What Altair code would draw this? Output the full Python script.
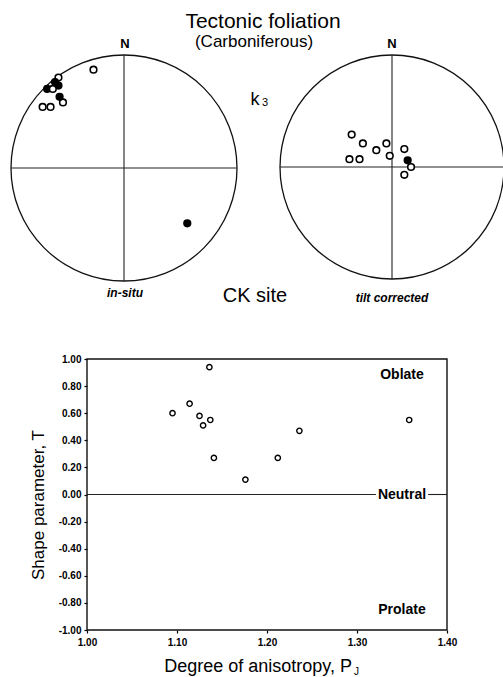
import altair as alt
import pandas as pd

FONT = "Liberation Sans"

# k3 directions, lower-hemisphere equal-area projection (unit net: east, north)
insitu_east = [-0.27, -0.58, -0.72, -0.65, -0.54, -0.61, -0.58, -0.68, -0.57, -0.63, 0.56]
insitu_north = [0.87, 0.80, 0.54, 0.54, 0.58, 0.76, 0.73, 0.70, 0.63, 0.70, -0.49]
insitu_kind = ["open", "open", "open", "open", "open",
               "filled", "filled", "filled", "filled", "open", "filled"]

tilt_east = [-0.36, -0.26, -0.05, 0.11, -0.14, -0.02, -0.38, -0.29, 0.14, 0.17, 0.11]
tilt_north = [0.29, 0.21, 0.21, 0.16, 0.15, 0.10, 0.07, 0.07, 0.06, 0.00, -0.07]
tilt_kind = ["open", "open", "open", "open", "open", "open", "open", "open",
             "filled", "open", "open"]

# AMS shape parameters per specimen
pj = [1.095, 1.114, 1.125, 1.129, 1.136, 1.137, 1.141, 1.176, 1.212, 1.236, 1.358]
t_shape = [0.60, 0.67, 0.58, 0.51, 0.94, 0.55, 0.27, 0.11, 0.27, 0.47, 0.55]

x_ticks = [1.0, 1.1, 1.2, 1.3, 1.4]
y_ticks = [-1.0, -0.8, -0.6, -0.4, -0.2, 0.0, 0.2, 0.4, 0.6, 0.8, 1.0]

shape_labels = ["Oblate", "Neutral", "Prolate"]
shape_label_t = [0.885, 0.0, -0.855]


def stereonet(east, north, kind, xr, yr):
    xs = alt.Scale(domain=[-1, 1], range=xr, nice=False, zero=False)
    ys = alt.Scale(domain=[-1, 1], range=yr, nice=False, zero=False)
    diam = xr[1] - xr[0]
    centre = pd.DataFrame({"x": [0.0], "y": [0.0]})
    outline = alt.Chart(centre).mark_point(
        shape="circle", size=diam ** 2, filled=False, color="#111",
        strokeWidth=1.3, opacity=1
    ).encode(
        x=alt.X("x:Q", scale=xs, axis=None),
        y=alt.Y("y:Q", scale=ys, axis=None),
    )
    cross = pd.DataFrame({"x": [0, -1], "x2": [0, 1], "y": [-1, 0], "y2": [1, 0]})
    rules = alt.Chart(cross).mark_rule(color="#222", strokeWidth=1.1).encode(
        x=alt.X("x:Q", scale=xs, axis=None), x2="x2:Q",
        y=alt.Y("y:Q", scale=ys, axis=None), y2="y2:Q",
    )
    pts = alt.Chart(pd.DataFrame({"e": east, "n": north, "kind": kind})).mark_point(
        shape="circle", size=44, filled=True, stroke="black",
        strokeWidth=1.6, opacity=1
    ).encode(
        x=alt.X("e:Q", scale=xs, axis=None),
        y=alt.Y("n:Q", scale=ys, axis=None),
        fill=alt.Fill("kind:N",
                      scale=alt.Scale(domain=["open", "filled"], range=["white", "black"]),
                      legend=None),
    )
    return [outline, rules, pts]


def label(text, x, y, size, weight="normal", style="normal", align="center",
          angle=0, baseline="alphabetic"):
    return alt.Chart(pd.DataFrame({"t": [text]})).mark_text(
        font=FONT, fontSize=size, fontWeight=weight, fontStyle=style,
        align=align, baseline=baseline, color="black", angle=angle
    ).encode(text="t:N", x=alt.value(x), y=alt.value(y))


# T vs Pj panel
sx = alt.Scale(domain=[1.0, 1.4], range=[87, 447], nice=False, zero=False)
sy = alt.Scale(domain=[-1, 1], range=[630, 359], nice=False, zero=False)

frame = alt.Chart(pd.DataFrame({"a": [1.0], "b": [1.4], "c": [-1.0], "d": [1.0]})).mark_rect(
    fillOpacity=0, stroke="#111", strokeWidth=1.4
).encode(
    x=alt.X("a:Q", scale=sx, axis=None), x2="b:Q",
    y=alt.Y("c:Q", scale=sy, axis=None), y2="d:Q",
)

neutral_line = alt.Chart(pd.DataFrame({"p": [1.0, 1.379], "p2": [1.321, 1.4], "t": [0.0, 0.0]})).mark_rule(
    color="#222", strokeWidth=1.1
).encode(
    x=alt.X("p:Q", scale=sx, axis=None), x2="p2:Q",
    y=alt.Y("t:Q", scale=sy, axis=None),
)

shape_text = alt.Chart(pd.DataFrame({"lab": shape_labels, "p": [1.35] * 3, "t": shape_label_t})).mark_text(
    font=FONT, fontSize=14, fontWeight="bold", color="black", baseline="middle"
).encode(
    text="lab:N",
    x=alt.X("p:Q", scale=sx, axis=None),
    y=alt.Y("t:Q", scale=sy, axis=None),
)

axis_common = dict(
    labelFont=FONT, labelFontSize=10, labelFontWeight="bold", labelColor="black",
    tickColor="black", tickSize=3, tickWidth=1.2, domain=False, grid=False,
    title=None, labelFlush=False, labelOverlap=False,
)

scatter = alt.Chart(pd.DataFrame({"P": pj, "T": t_shape})).mark_point(
    shape="circle", size=28, filled=False, color="black", strokeWidth=1.4, opacity=1
).encode(
    x=alt.X("P:Q", scale=sx, axis=alt.Axis(
        orient="bottom", offset=-47, values=x_ticks, format=".2f",
        labelPadding=4, **axis_common)),
    y=alt.Y("T:Q", scale=sy, axis=alt.Axis(
        orient="left", offset=-87, values=y_ticks,
        labelExpr="replace(format(datum.value, '.2f'), '\u2212', '-')",
        labelPadding=3, **axis_common)),
)

layers = []
layers += stereonet(insitu_east, insitu_north, insitu_kind, [11, 237], [281, 55])
layers += stereonet(tilt_east, tilt_north, tilt_kind, [280, 504], [279, 55])
layers += [frame, neutral_line, shape_text, scatter]
layers += [
    label("Tectonic  foliation", 263, 28, 21),
    label("(Carboniferous)", 254, 47, 17),
    label("N", 125, 48, 13, weight="bold"),
    label("N", 392, 48, 13, weight="bold"),
    label("k", 255, 105, 18),
    label("3", 265, 106, 11),
    label("CK site", 255, 302, 20),
    label("in-situ", 125, 297, 12, weight="bold", style="italic"),
    label("tilt corrected", 392, 302, 12, weight="bold", style="italic"),
    label("Shape parameter, T", 44, 505, 17, angle=270),
    label("Degree of anisotropy, P", 352, 672, 18, align="right"),
    label("J", 354, 675, 10, align="left"),
]

chart = alt.layer(*layers).resolve_scale(
    x="independent", y="independent"
).properties(
    width=503, height=677, autosize="none", padding=0, background="white"
).configure_view(stroke=None)

chart.save("out.html", embed_options={"renderer": "svg", "actions": False})
